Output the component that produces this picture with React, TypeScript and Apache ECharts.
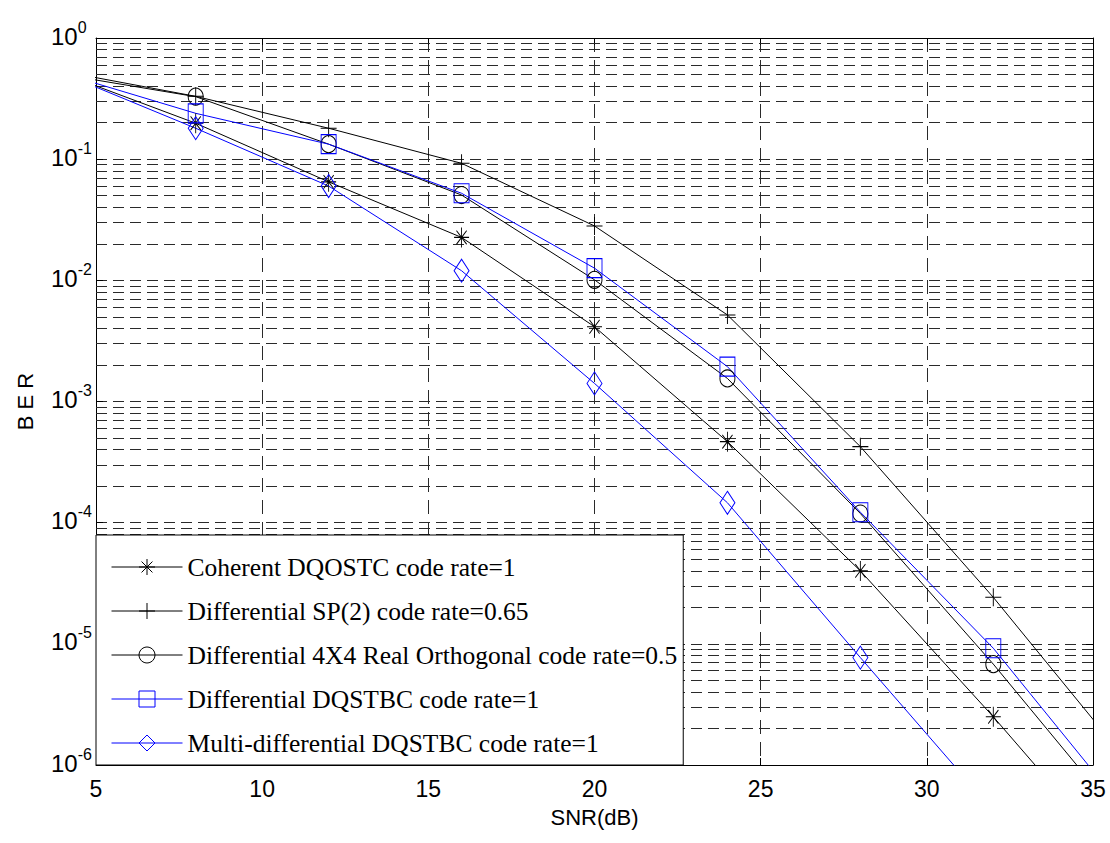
import { useEffect, useRef } from 'react';
import * as echarts from 'echarts';

// SNR sample points in dB; the outer two fall outside the visible x range and get clipped
const snrDb = [4, 8, 12, 16, 20, 24, 28, 32, 36];

// Bit error rate curves
const berCoherentDQOSTC = [0.51, 0.198, 0.065, 0.0226, 0.00414, 4.66e-4, 4.0e-5, 2.5e-6, 1.35e-7];
const berDiffSP2 = [0.53, 0.33, 0.18, 0.0924, 0.0281, 5.18e-3, 4.24e-4, 2.42e-5, 1.1e-6];
const berDiff4x4Real = [0.5, 0.328, 0.133, 0.0506, 0.0101, 1.55e-3, 1.19e-4, 6.8e-6, 3.2e-7];
const berDiffDQSTBC = [0.51, 0.239, 0.133, 0.0523, 0.0126, 1.94e-3, 1.22e-4, 9.2e-6, 4.1e-7];
const berMultiDiffDQSTBC = [0.51, 0.18, 0.06, 0.012, 1.41e-3, 1.46e-4, 7.7e-6, 4.2e-7, 2.3e-8];

const seriesNames = [
  'Coherent DQOSTC code rate=1',
  'Differential SP(2) code rate=0.65',
  'Differential 4X4 Real Orthogonal code rate=0.5',
  'Differential DQSTBC code rate=1',
  'Multi-differential DQSTBC code rate=1',
];

// Axis ticks
const xTickValues = [5, 10, 15, 20, 25, 30, 35];
const yTickExponents = [0, -1, -2, -3, -4, -5, -6];
const minorMultipliers = [2, 3, 4, 5, 6, 7, 8, 9];

const SANS = 'Liberation Sans, Arial, sans-serif';
const SERIF = 'Liberation Serif, Times New Roman, serif';
const BLACK = '#000000';
const BLUE = '#0000ff';
const GRID_COLOR = '#2a2a2a';

const PLUS = 'path://M5,0 L5,10 M0,5 L10,5';
const STAR = 'path://M5,0 L5,10 M0,5 L10,5 M1.6,1.6 L8.4,8.4 M8.4,1.6 L1.6,8.4';

const seriesStyles = [
  { data: berCoherentDQOSTC, color: BLACK, symbol: STAR, symbolSize: [15, 20] },
  { data: berDiffSP2, color: BLACK, symbol: PLUS, symbolSize: [16, 18] },
  { data: berDiff4x4Real, color: BLACK, symbol: 'circle', symbolSize: [15, 17] },
  { data: berDiffDQSTBC, color: BLUE, symbol: 'rect', symbolSize: [15, 19] },
  { data: berMultiDiffDQSTBC, color: BLUE, symbol: 'diamond', symbolSize: [15, 23] },
];

export default function App() {
  const ref = useRef<HTMLDivElement>(null);

  useEffect(() => {
    document.body.style.margin = '0';
    if (!ref.current) return;
    const chart = echarts.init(ref.current, undefined, { renderer: 'svg' });

    const topExp = Math.max(...yTickExponents);
    const yMin = Math.pow(10, Math.min(...yTickExponents));
    const yMax = Math.pow(10, topExp);

    // Minor horizontal grid lines at 2..9 x 10^k
    const minorGrid: number[] = [];
    yTickExponents.forEach((e) => {
      if (e === topExp) return;
      minorMultipliers.forEach((m) => minorGrid.push(m * Math.pow(10, e)));
    });

    const yLabel = (v: number) => {
      const e = Math.round(Math.log10(v));
      return yTickExponents.includes(e) ? `{b|10}{s|${e}}` : '';
    };

    const series: any[] = seriesStyles.map((s, i) => ({
      name: seriesNames[i],
      type: 'line',
      data: snrDb.map((x, k) => [x, s.data[k]]),
      symbol: s.symbol,
      symbolSize: s.symbolSize,
      clip: true,
      color: s.color,
      lineStyle: { color: s.color, width: 1 },
      itemStyle: { color: 'transparent', borderColor: s.color, borderWidth: 1 },
      emphasis: { disabled: true },
      silent: true,
      z: 3,
    }));

    series[0].markLine = {
      silent: true,
      z: 1,
      precision: 10,
      symbol: ['none', 'none'],
      label: { show: false },
      emphasis: { disabled: true },
      lineStyle: { color: GRID_COLOR, type: [11, 6], width: 1 },
      data: minorGrid.map((v) => ({ yAxis: v })),
    };

    const xCommon = {
      type: 'value',
      min: xTickValues[0],
      max: xTickValues[xTickValues.length - 1],
      interval: xTickValues[1] - xTickValues[0],
      axisLine: { show: true, onZero: false, lineStyle: { color: BLACK, width: 1 } },
      axisTick: { show: true, inside: true, length: 7, lineStyle: { color: BLACK } },
    };
    const yCommon = {
      type: 'log',
      logBase: 10,
      min: yMin,
      max: yMax,
      splitNumber: yTickExponents.length - 1,
      axisLine: { show: true, lineStyle: { color: BLACK, width: 1 } },
      axisTick: { show: true, inside: true, length: 7, lineStyle: { color: BLACK } },
    };

    chart.setOption({
      animation: false,
      backgroundColor: '#ffffff',
      grid: { left: 96, right: 17, top: 38, bottom: 78, containLabel: false },
      xAxis: [
        {
          ...xCommon,
          position: 'bottom',
          name: 'SNR(dB)',
          nameLocation: 'middle',
          nameGap: 41,
          nameTextStyle: { fontFamily: SANS, fontSize: 22, color: BLACK },
          axisLabel: { margin: 12, fontFamily: SANS, fontSize: 23, color: BLACK },
          splitLine: { show: true, lineStyle: { color: GRID_COLOR, type: [14, 8], width: 1 } },
        },
        {
          ...xCommon,
          position: 'top',
          axisLabel: { show: false },
          splitLine: { show: false },
        },
      ],
      yAxis: [
        {
          ...yCommon,
          position: 'left',
          name: 'B E R',
          nameLocation: 'middle',
          nameGap: 60,
          nameRotate: 90,
          nameTextStyle: { fontFamily: SANS, fontSize: 22, color: BLACK },
          axisLabel: {
            formatter: yLabel,
            align: 'left',
            margin: 45,
            padding: [0, 0, 14, 0],
            rich: {
              b: { fontFamily: SANS, fontSize: 24, color: BLACK, lineHeight: 24, padding: [10, 0, 0, 0] },
              s: { fontFamily: SANS, fontSize: 16, color: BLACK, lineHeight: 16, verticalAlign: 'top' },
            },
          },
          splitLine: { show: true, lineStyle: { color: GRID_COLOR, type: [11, 6], width: 1 } },
        },
        {
          ...yCommon,
          position: 'right',
          axisLabel: { show: false },
          splitLine: { show: false },
        },
      ],
      legend: {
        orient: 'vertical',
        left: 96,
        top: 535,
        backgroundColor: '#ffffff',
        borderColor: BLACK,
        borderWidth: 1,
        borderRadius: 0,
        padding: [10, 6, 0, 15],
        itemWidth: 71,
        itemHeight: 20,
        itemGap: 0,
        selectedMode: false,
        textStyle: { fontFamily: SERIF, fontSize: 25.5, lineHeight: 44, color: BLACK },
        data: seriesStyles.map((s, i) => ({
          name: seriesNames[i],
          itemStyle: { color: 'transparent', borderColor: s.color, borderWidth: 1 },
          lineStyle: { color: s.color, width: 1 },
        })),
      },
      series,
    });

    return () => chart.dispose();
  }, []);

  return <div ref={ref} style={{ width: 1110, height: 843 }} />;
}
